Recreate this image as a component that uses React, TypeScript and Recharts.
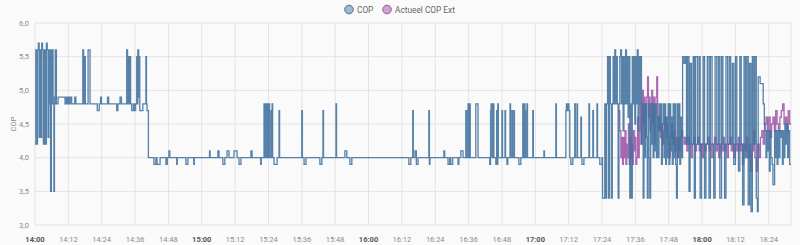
import { LineChart, Line, XAxis, YAxis, CartesianGrid } from "recharts"

// minutes after 14:00, value
const copReadings: [number, number][] = [
  [0, 4.2], [0.3, 5.6], [0.6, 4.2], [0.9, 5.6], [1.2, 5.7], [1.5, 4.3], [1.8, 5.6], [2.1, 4.3], [2.4, 5.7], [2.7, 5.6],
  [3.0, 4.2], [3.4, 5.6], [3.8, 4.2], [4.1, 5.7], [4.4, 5.6], [4.7, 4.3], [5.0, 5.6], [5.2, 4.8], [5.4, 5.6], [5.6, 3.5],
  [5.9, 5.6], [6.1, 4.8], [6.3, 5.6], [6.5, 4.9], [6.8, 3.5], [7.0, 4.8], [7.3, 5.6], [7.7, 4.8], [8.3, 4.9], [10.8, 4.8],
  [11.3, 4.9], [11.7, 4.8], [12.0, 4.9], [12.4, 4.8], [12.7, 4.9], [13.2, 4.8], [14.3, 4.9], [14.7, 4.8], [17.2, 5.6], [17.5, 4.8],
  [17.8, 5.5], [18.1, 4.8], [19.1, 5.6], [19.8, 4.8], [22.4, 4.7], [23.1, 4.8], [23.6, 4.9], [23.9, 4.8], [26.1, 4.9], [26.5, 4.8],
  [29.4, 4.7], [29.8, 4.8], [30.6, 4.9], [31.1, 4.8], [33.0, 5.6], [33.3, 4.8], [33.6, 5.5], [33.9, 4.8], [34.2, 5.5], [34.4, 4.8],
  [34.8, 4.7], [35.4, 4.8], [35.7, 4.7], [36.2, 4.8], [36.6, 5.5], [36.8, 4.8], [37.0, 5.6], [37.3, 4.9], [37.5, 5.5], [37.7, 4.7],
  [38.8, 4.8], [39.9, 5.5], [40.1, 4.8], [40.3, 4.7], [40.8, 4.0],
  [42.8, 3.9], [43.5, 4.0], [43.9, 3.9], [45.0, 4.0], [47.1, 3.9], [47.6, 4.0], [48.2, 4.1], [48.5, 4.0], [51.0, 3.9], [51.2, 4.0],
  [54.3, 3.9], [55.0, 4.0], [57.1, 3.9], [57.3, 4.0], [62.8, 4.1], [63.0, 4.0], [65.8, 4.1], [66.2, 4.0], [67.6, 3.9], [68.3, 4.0],
  [69.1, 4.1], [69.8, 4.0], [71.6, 4.1], [72.7, 4.0], [73.4, 3.9], [74.1, 4.0], [77.7, 4.1], [78.1, 4.0], [81.2, 3.9], [81.4, 4.0],
  [82.4, 4.8], [82.6, 4.0], [82.9, 4.8], [83.3, 4.0], [83.5, 4.8], [83.9, 4.0], [84.2, 4.8], [84.4, 4.0], [84.9, 4.7], [85.1, 4.0],
  [85.3, 4.8], [85.5, 4.0], [86.0, 3.9], [87.1, 4.0], [87.8, 4.7], [88.0, 4.0], [96.0, 4.7], [96.2, 4.0], [96.8, 3.9], [97.5, 4.0],
  [102.5, 3.9], [103.2, 4.0], [103.6, 4.7], [103.8, 4.0], [108.3, 4.8], [108.5, 4.0], [111.5, 4.1], [112.2, 4.0], [113.3, 3.9], [114.0, 4.0],
  [134.5, 3.9], [135.2, 4.0], [135.9, 4.7], [136.1, 4.0], [136.7, 4.1], [137.2, 3.9], [137.8, 4.0], [141.7, 4.7], [141.9, 3.9], [142.1, 4.0],
  [147.1, 4.1], [147.4, 4.0], [148.6, 3.9], [149.2, 4.0], [149.6, 3.9], [150.3, 4.0], [152.2, 3.9], [152.5, 4.0], [153.2, 4.1], [154.0, 4.0],
  [155.0, 4.7], [155.3, 4.0], [155.8, 4.8], [156.0, 4.0], [156.2, 4.8], [156.6, 4.0], [158.6, 4.8], [159.4, 4.0], [163.6, 3.9], [163.9, 4.7],
  [164.1, 4.8], [164.4, 4.0], [164.7, 4.8], [165.1, 4.0], [165.8, 3.9], [166.1, 4.7], [166.3, 3.9], [166.5, 4.8], [166.7, 4.0], [168.0, 4.7],
  [168.2, 4.0], [169.1, 4.7], [169.3, 4.0], [169.8, 3.9], [170.1, 4.0], [170.9, 4.8], [171.1, 4.0], [171.6, 4.7], [171.8, 4.0], [172.3, 4.7],
  [172.5, 4.0], [174.1, 3.9], [174.8, 4.0], [175.5, 4.8], [175.8, 4.0], [176.1, 4.8], [176.3, 4.7], [176.5, 4.0], [177.0, 4.8], [177.2, 4.0],
  [179.1, 4.7], [179.3, 4.0], [183.1, 4.1], [183.3, 4.0], [187.4, 4.8], [187.6, 4.0], [191.0, 4.7], [191.2, 4.8], [191.5, 4.7], [191.8, 4.8],
  [192.1, 4.7], [192.4, 4.0], [192.8, 3.9], [193.5, 4.0], [194.2, 4.8], [194.4, 4.0], [195.0, 4.8], [195.2, 4.0], [196.4, 4.6], [196.6, 4.0],
  [196.8, 3.9], [197.5, 4.0], [199.3, 4.8], [199.5, 4.0], [200.7, 4.7], [200.9, 4.0], [202.2, 4.8], [202.4, 4.0], [203.2, 3.9], [204.0, 4.0],
  [204.2, 3.4], [205.0, 4.8], [205.3, 3.4], [205.6, 4.8], [206.0, 5.5], [206.3, 3.4], [206.7, 5.5], [207.0, 4.8], [207.4, 3.4], [207.7, 4.8],
  [208.0, 5.5], [208.3, 4.8], [208.6, 5.6], [208.9, 4.8], [209.2, 5.5], [209.5, 4.8], [209.8, 3.4], [210.1, 4.8], [210.4, 5.5], [210.7, 5.6],
  [211.0, 4.8], [211.3, 5.5], [211.6, 4.4], [211.9, 5.5], [212.2, 4.8], [212.5, 5.6], [212.8, 4.8], [213.1, 5.5], [213.4, 4.6], [213.7, 5.5],
  [214.0, 3.4], [214.3, 4.8], [214.6, 3.4], [214.9, 5.5], [215.2, 4.8], [215.5, 5.5], [215.8, 4.5], [216.1, 5.5], [216.4, 4.8], [216.7, 5.6],
  [217.0, 4.4], [217.3, 5.5], [217.6, 4.8], [217.9, 5.5], [218.2, 4.2], [218.5, 4.8], [218.8, 3.4], [219.1, 4.8], [219.4, 4.0], [219.7, 4.8],
  [220.0, 4.3], [220.3, 3.4], [220.6, 4.8], [220.9, 4.0], [221.2, 3.4], [221.5, 4.8], [221.8, 4.2], [222.1, 4.8], [222.4, 4.0], [222.7, 4.8],
  [223.0, 4.1], [223.3, 4.8], [223.6, 4.0], [223.9, 4.6], [224.2, 4.0], [224.5, 4.8], [224.8, 4.4], [225.1, 4.8], [225.4, 3.9], [225.7, 4.5],
  [226.0, 4.8], [226.3, 4.0], [226.6, 4.8], [226.9, 3.9], [227.2, 4.6], [227.5, 4.0], [227.8, 4.8], [228.1, 3.9], [228.4, 4.8], [228.7, 4.1],
  [229.0, 4.6], [229.3, 3.9], [229.6, 4.8], [229.9, 4.0], [230.2, 4.8], [230.5, 3.9], [230.8, 3.4], [231.1, 4.8], [231.4, 4.0], [231.7, 4.8],
  [232.0, 3.9], [232.3, 4.6], [232.6, 4.0], [233.0, 5.5], [233.5, 5.4], [234.0, 5.5], [234.4, 4.2], [234.8, 5.5], [235.3, 3.5], [235.7, 5.4],
  [236.2, 4.2], [236.8, 5.5], [237.2, 3.4], [237.6, 5.5], [238.3, 4.2], [238.9, 5.5], [239.3, 3.4], [239.8, 4.2], [240.4, 5.5], [240.9, 3.4],
  [241.4, 4.2], [241.9, 5.5], [242.5, 3.4], [243.0, 5.5], [243.6, 4.2], [244.2, 3.4], [244.7, 5.5], [245.3, 4.2], [245.9, 5.5], [246.4, 3.4],
  [247.0, 5.5], [247.5, 4.2], [248.1, 3.4], [248.6, 5.5], [249.2, 4.2], [249.8, 5.5], [250.3, 4.2], [250.9, 5.4], [251.4, 3.9], [252.0, 5.5],
  [252.5, 4.2], [253.1, 3.8], [253.6, 5.5], [254.1, 4.2], [254.6, 3.3], [255.1, 5.5], [255.6, 4.0], [256.1, 5.5], [256.6, 3.3], [257.1, 5.4],
  [257.6, 3.2], [258.1, 5.5], [258.6, 4.2], [259.0, 5.5], [259.5, 3.4], [259.9, 3.2], [260.2, 5.2], [260.9, 5.1], [262.0, 4.8], [262.4, 4.5],
  [262.7, 4.4], [263.0, 4.0], [263.3, 4.4], [263.6, 4.1], [263.9, 4.4], [264.2, 3.8], [264.5, 4.4], [264.8, 4.0], [265.2, 3.9], [265.5, 3.6],
  [266.1, 4.4], [266.4, 4.0], [266.7, 4.4], [267.0, 3.9], [267.3, 4.4], [267.6, 4.0], [268.0, 4.4], [268.3, 4.3], [268.6, 4.4], [268.9, 3.9],
  [269.2, 4.4], [269.5, 4.0], [269.8, 4.5], [270.1, 4.2], [270.5, 4.5], [270.8, 4.0], [271.1, 4.4], [271.5, 3.9], [272, 3.9],
]

const extReadings: [number, number][] = [
  [210.0, 4.7], [210.4, 4.4], [210.8, 4.0], [211.1, 4.3], [211.4, 3.9], [211.7, 4.3], [212.0, 4.0], [212.3, 4.4], [212.6, 3.9], [212.9, 4.2],
  [213.2, 4.0], [213.5, 4.5], [213.8, 3.9], [214.1, 4.3], [214.4, 4.0], [214.7, 4.2], [215.0, 3.9], [215.3, 4.4], [215.6, 4.1], [215.9, 4.3],
  [216.2, 3.9], [216.5, 4.0], [216.8, 4.6], [217.1, 4.0], [217.4, 4.4], [217.7, 4.8], [218.0, 4.2], [218.3, 4.6], [218.6, 5.0], [218.9, 4.5],
  [219.2, 4.9], [219.5, 4.3], [219.8, 4.8], [220.1, 4.9], [220.4, 5.2], [220.7, 4.6], [221.0, 4.9], [221.3, 4.4], [221.6, 4.8], [221.9, 5.0],
  [222.2, 4.5], [222.5, 4.9], [222.8, 4.2], [223.1, 4.7], [223.4, 4.9], [223.7, 5.2], [224.0, 4.6], [224.3, 4.4], [224.6, 4.6], [225.0, 4.3],
  [225.4, 4.5], [225.8, 4.2], [226.2, 4.4], [226.6, 4.6], [227.0, 4.3], [227.4, 4.5], [227.8, 4.2], [228.2, 4.0], [228.6, 4.3], [229.0, 4.5],
  [229.4, 4.2], [229.8, 4.4], [230.2, 4.1], [230.6, 4.3], [231.0, 4.0], [231.4, 4.3], [231.8, 4.1], [232.2, 4.3], [232.6, 4.4], [233.0, 4.3],
  [233.5, 4.2], [234.0, 4.3], [234.5, 4.1], [235.0, 4.3], [235.5, 4.2], [236.0, 4.0], [236.5, 4.2], [237.0, 4.3], [237.5, 4.1], [238.0, 4.2],
  [238.5, 4.3], [239.0, 4.1], [239.5, 4.2], [240.0, 4.0], [240.5, 4.2], [241.0, 4.1], [241.5, 4.2], [242.0, 4.3], [242.5, 4.1], [243.0, 4.2],
  [243.5, 4.0], [244.0, 4.2], [244.5, 4.3], [245.0, 4.1], [245.5, 4.2], [246.0, 4.0], [246.5, 4.2], [247.0, 4.1], [247.5, 4.3], [248.0, 4.1],
  [248.5, 4.2], [249.0, 4.0], [249.5, 4.2], [250.0, 4.3], [250.5, 4.1], [251.0, 4.2], [251.5, 4.0], [252.0, 4.2], [252.5, 4.1], [253.0, 4.3],
  [253.5, 4.1], [254.0, 4.2], [254.5, 3.9], [255.0, 4.2], [255.5, 4.1], [256.0, 4.3], [256.5, 4.0], [257.0, 4.2], [257.5, 3.8], [258.0, 4.1],
  [258.5, 4.4], [259.0, 4.0], [259.5, 3.8], [260.0, 4.2], [260.5, 4.0], [261.0, 4.3], [261.5, 4.4], [262.0, 4.2], [262.5, 4.5], [263.0, 4.6],
  [263.5, 4.4], [264.0, 4.6], [264.5, 4.3], [265.0, 4.5], [265.5, 4.6], [266.0, 4.4], [266.5, 4.7], [267.0, 4.5], [267.5, 4.4], [268.0, 4.6],
  [268.5, 4.7], [269.0, 4.8], [269.5, 4.5], [270.0, 4.6], [270.5, 4.4], [271.0, 4.7], [271.5, 4.5], [272, 4.5],
]

const xTicks = [0, 12, 24, 36, 48, 60, 72, 84, 96, 108, 120, 132, 144, 156, 168, 180, 192, 204, 216, 228, 240, 252, 264]
const yTicks = [3, 3.5, 4, 4.5, 5, 5.5, 6]
const seriesNames = ["COP", "Actueel COP Ext"]
const seriesColors = ["#44739e", "#984ea3"]

const copData = copReadings.map(([t, v]) => ({ t, v }))
const extData = extReadings.map(([t, v]) => ({ t, v }))

const FONT = "Roboto, sans-serif"

function timeLabel(min: number) {
  const h = 14 + Math.floor(min / 60)
  const m = min % 60
  return `${h}:${m.toString().padStart(2, "0")}`
}

function TimeTick({ x, y, payload }: any) {
  const isHour = payload.value % 60 === 0
  return (
    <text
      x={x}
      y={y + 9}
      textAnchor="middle"
      fontFamily={FONT}
      fontSize={7.5}
      fontWeight={isHour ? 700 : 400}
      fill={isHour ? "#555" : "#8a8a8a"}
    >
      {timeLabel(payload.value)}
    </text>
  )
}

function LegendBar() {
  const items = [
    { name: seriesNames[0], color: seriesColors[0], cx: 349 },
    { name: seriesNames[1], color: seriesColors[1], cx: 387 },
  ]
  return (
    <svg width={800} height={20} style={{ position: "absolute", left: 0, top: 0 }}>
      {items.map((it) => (
        <g key={it.name}>
          <circle cx={it.cx} cy={9.5} r={4.3} fill={it.color} fillOpacity={0.5} stroke={it.color} strokeWidth={1} />
          <text x={it.cx + 8} y={12.5} fontFamily={FONT} fontSize={8.3} fill="#666">
            {it.name}
          </text>
        </g>
      ))}
    </svg>
  )
}

export default function App() {
  return (
    <div style={{ position: "fixed", left: 0, top: 0, width: 800, height: 245, background: "#fafafa" }}>
      <LineChart width={800} height={245} margin={{ top: 23, right: 9, bottom: 0, left: 0 }}>
        <CartesianGrid stroke="#e3e3e3" strokeWidth={1} />
        <XAxis
          type="number"
          dataKey="t"
          domain={[0, 272]}
          ticks={xTicks}
          axisLine={false}
          tickLine={false}
          height={20}
          tick={<TimeTick />}
          allowDataOverflow
        />
        <YAxis
          type="number"
          domain={[3, 6]}
          ticks={yTicks}
          width={35}
          axisLine={false}
          tickLine={false}
          tickSize={6}
          tickMargin={0}
          tick={{ fontFamily: FONT, fontSize: 7.5, fill: "#8a8a8a" }}
          tickFormatter={(v: number) => v.toFixed(1).replace(".", ",")}
          label={{
            value: "COP",
            angle: -90,
            position: "insideLeft",
            offset: 13,
            style: { textAnchor: "middle", fontFamily: FONT, fontSize: 7.5, fill: "#8a8a8a" },
          }}
        />
        <Line
          data={extData}
          dataKey="v"
          type="stepAfter"
          stroke={seriesColors[1]}
          strokeWidth={1.3}
          strokeOpacity={0.85}
          dot={false}
          isAnimationActive={false}
        />
        <Line
          data={copData}
          dataKey="v"
          type="stepAfter"
          stroke={seriesColors[0]}
          strokeWidth={1.3}
          strokeOpacity={0.9}
          dot={false}
          isAnimationActive={false}
        />
      </LineChart>
      <LegendBar />
    </div>
  )
}
